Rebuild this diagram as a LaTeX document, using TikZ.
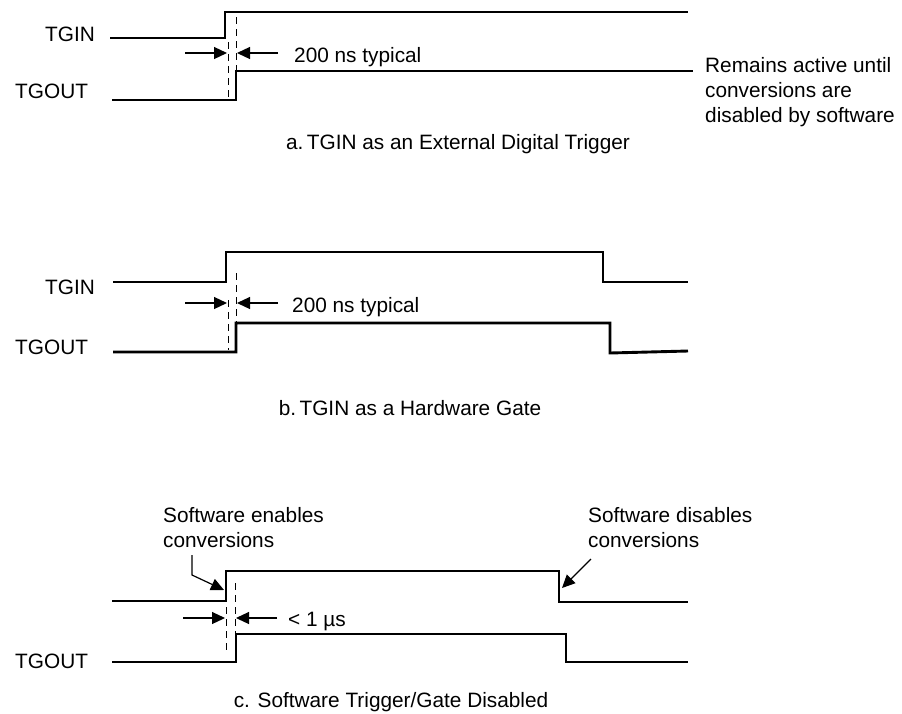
\documentclass[tikz,border=0pt]{standalone}
\usepackage{fontspec}
\setmainfont{Liberation Sans}
\usetikzlibrary{arrows.meta}

\begin{document}
\begin{tikzpicture}[x=1pt, y=-1pt,
  sig/.style={line width=2.9pt},
  guide/.style={line width=1pt, dash pattern=on 7pt off 5pt},
  lead/.style={line width=1.2pt, -{Triangle[length=13pt, width=12pt]}},
  lbl/.style={inner sep=0pt, font=\fontsize{20.8}{25}\selectfont}]
\useasboundingbox (0,0) rectangle (902,713);

% a. external digital trigger
\node[lbl, anchor=base west] (ina) at (45,41) {TGIN};
\node[lbl, anchor=base west] (outa) at (15,98) {TGOUT};
\draw[sig] (110,38) -- (225,38) -- (225,12) -- (688,12);
\draw[sig] (112,100) -- (236,100) -- (236,71) -- (693,71);
\node[lbl, anchor=base west, align=left] (rem) at (705,122) {Remains active until\\conversions are\\disabled by software};
\node[lbl, anchor=base west] (dta) at (294,62) {200 ns typical};
\node[lbl, anchor=base] (capa) at (458,149) {a.\,TGIN as an External Digital Trigger};

% b. hardware gate
\node[lbl, anchor=base west] (inb) at (45,294) {TGIN};
\node[lbl, anchor=base west] (outb) at (15,354) {TGOUT};
\draw[sig] (113,282) -- (226,282) -- (226,252) -- (603,252) -- (603,282) -- (688,282);
\draw[sig] (113,352) -- (236,352) -- (236,323) -- (610,323) -- (610,353) -- (688,351);
\node[lbl, anchor=base west] (dtb) at (292,312) {200 ns typical};
\node[lbl, anchor=base] (capb) at (410,415) {b.\,TGIN as a Hardware Gate};

% c. software trigger
\node[lbl, anchor=base west] (outc) at (15,668) {TGOUT};
\draw[sig] (112,601) -- (226,601) -- (226,571) -- (559,571) -- (559,602) -- (688,602);
\draw[sig] (112,662) -- (236,662) -- (236,634) -- (566,634) -- (566,662) -- (688,662);
\node[lbl, anchor=base west] (dtc) at (288,626) {< 1 µs};
\node[lbl, anchor=base] (capc) at (391,707) {c. Software Trigger/Gate Disabled};
\node[lbl, anchor=base west, align=left] (en) at (163,547) {Software enables\\conversions};
\node[lbl, anchor=base west, align=left] (dis) at (588,547) {Software disables\\conversions};
\coordinate (enx) at (192,555);
\coordinate (enrise) at (224,590);
\coordinate (disx) at (591,559);
\coordinate (disfall) at (562,588);
\draw[lead] (enx) -- (192,575) -- (enrise);
\draw[lead] (disx) -- (disfall);

% dashed edge guides
\foreach \x/\ya/\yb in {228/42/98, 236/17/71, 228/300/350, 236/273/323, 226/607/652, 235/583/634} {
    \draw[guide] (\x,\ya) -- (\x,\yb);
}
% delay arrows
\foreach \y/\l/\r in {53/227/237, 303/227/237, 618/225/236} {
    \draw[lead] (\l-42,\y) -- (\l,\y);
    \draw[lead] (\r+41,\y) -- (\r,\y);
}
\end{tikzpicture}
\end{document}
